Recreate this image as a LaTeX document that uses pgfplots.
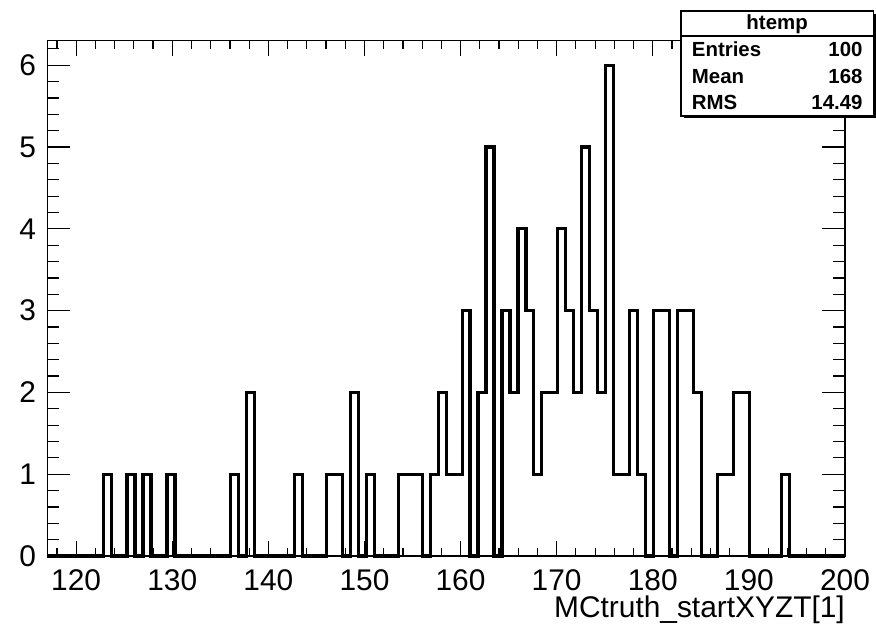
\documentclass[border=0pt]{standalone}
\usepackage{fontspec}
\setmainfont{Liberation Sans}
\usepackage{pgfplots}
\pgfplotsset{compat=1.18}
\usepackage{pgfplotstable}

% bin low edge, entries (100 bins from 117 to 200)
\pgfplotstableread{
lo n
117.00 0
117.83 0
118.66 0
119.49 0
120.32 0
121.15 0
121.98 0
122.81 1
123.64 0
124.47 0
125.30 1
126.13 0
126.96 1
127.79 0
128.62 0
129.45 1
130.28 0
131.11 0
131.94 0
132.77 0
133.60 0
134.43 0
135.26 0
136.09 1
136.92 0
137.75 2
138.58 0
139.41 0
140.24 0
141.07 0
141.90 0
142.73 1
143.56 0
144.39 0
145.22 0
146.05 1
146.88 1
147.71 0
148.54 2
149.37 0
150.20 1
151.03 0
151.86 0
152.69 0
153.52 1
154.35 1
155.18 1
156.01 0
156.84 1
157.67 2
158.50 1
159.33 1
160.16 3
160.99 0
161.82 2
162.65 5
163.48 0
164.31 3
165.14 2
165.97 4
166.80 3
167.63 1
168.46 2
169.29 2
170.12 4
170.95 3
171.78 2
172.61 5
173.44 3
174.27 2
175.10 6
175.93 1
176.76 1
177.59 3
178.42 1
179.25 0
180.08 3
180.91 3
181.74 0
182.57 3
183.40 3
184.23 2
185.06 0
185.89 0
186.72 1
187.55 1
188.38 2
189.21 2
190.04 0
190.87 0
191.70 0
192.53 0
193.36 1
194.19 0
195.02 0
195.85 0
196.68 0
197.51 0
198.34 0
199.17 0
200.00 0
}\htemp

\begin{document}
\begin{tikzpicture}
\begin{axis}[
 at={(0,0)},anchor=south west,
 scale only axis,width=797.7bp,height=515.3bp,
 xmin=117,xmax=200,ymin=0,ymax=6.3,
 xtick={120,130,...,200},minor xtick={118,120,...,200},
 ytick={0,1,...,6},minor ytick={0,0.2,...,6.25},
 tick align=inside,xtick pos=both,ytick pos=both,
 axis line style={line width=1.3bp},
 tick style={line width=1.2bp,black},
 x tick style={/pgfplots/major tick length=15bp,/pgfplots/minor tick length=8bp},
 y tick style={/pgfplots/major tick length=23bp,/pgfplots/minor tick length=12bp},
 ticklabel style={font=\fontsize{30}{32}\selectfont,inner sep=0pt},
 /pgf/number format/assume math mode=true,
 xticklabel style={yshift=-13bp},
 yticklabel style={xshift=-11bp},
 xlabel={MCtruth\_startXYZT[1]},
 xlabel style={at={(axis description cs:1,0)},anchor=base east,yshift=-61bp,inner sep=0pt,font=\fontsize{30}{32}\selectfont},
 clip=false]
\addplot[const plot mark left,line width=3.2bp,black,no marks] table[x=lo,y=n]{\htemp};
\end{axis}
% stats box
\fill[black] (636.5bp,437.5bp) rectangle (828.7bp,542bp);
\filldraw[fill=white,draw=black,line width=1.3bp] (633.7bp,440bp) rectangle (826bp,545bp);
\draw[line width=1.3bp] (633.7bp,520bp) -- (826bp,520bp);
\begin{scope}[every node/.style={inner sep=0pt,font=\bfseries\fontsize{20.5}{21}\selectfont}]
\node[anchor=base] at (729.8bp,526.7bp) {htemp};
\node[anchor=base west] at (644.4bp,499.3bp) {Entries};
\node[anchor=base east] at (815.4bp,499.3bp) {100};
\node[anchor=base west] at (644.4bp,472.7bp) {Mean};
\node[anchor=base east] at (815.4bp,472.7bp) {168};
\node[anchor=base west] at (644.4bp,446bp) {RMS};
\node[anchor=base east] at (815.4bp,446bp) {14.49};
\end{scope}
\pgfresetboundingbox
\path[use as bounding box] (-47.3bp,-70bp) rectangle (828.7bp,556bp);
\end{tikzpicture}
\end{document}
